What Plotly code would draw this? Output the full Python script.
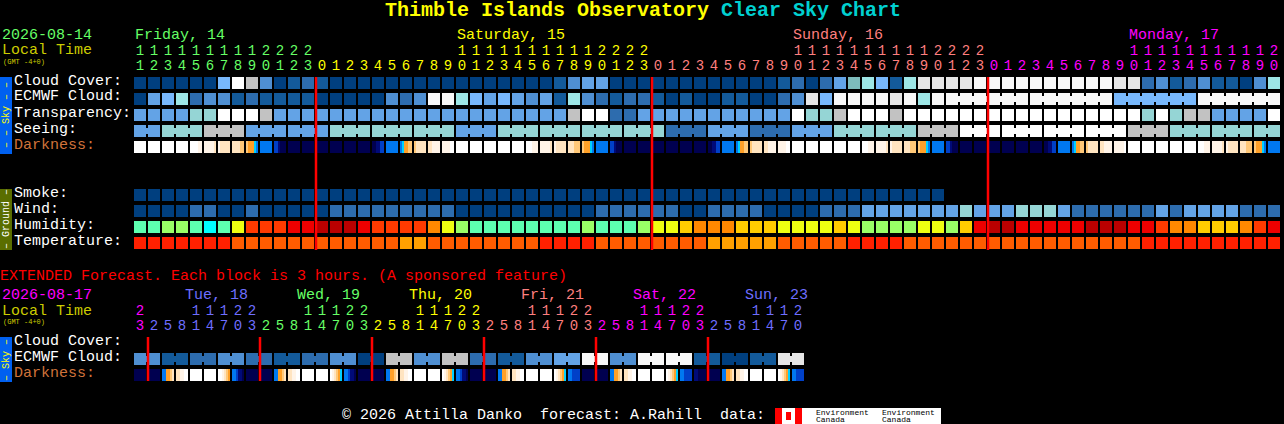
import plotly.graph_objects as go

W_PX, H_PX = 1284, 424
MONO = "Liberation Mono"

# ---- palette for the hourly blocks -------------------------------------
block_colours = ["#003f7f", "#135a9a", "#2d6cae", "#4f8fd2", "#63a3e6", "#78b8fc",
                 "#9de6e6", "#95d5d5", "#7dbcbc", "#c2c2c2", "#e6e6e6", "#f8f8f8", "#ffffff",
                 "#00ffff", "#5dffb0", "#99ff66", "#eeff11", "#ffcc00", "#ff8800", "#ff3a00", "#ee0000", "#b90000",
                 "#ff2000", "#ff5c00", "#ffa000"]
A, B, C, D, E, F, G, H, M, I, J, K, L, CY, SP, LM, YE, AM, OR, OE, RD, DR, T1, T2, T3 = range(25)

# ---- palette for the darkness blocks -----------------------------------
dark_colours = ["#000050", "#000a78", "#0040c8", "#0078f0", "#00d0ff",
                "#ffa028", "#ffc878", "#ffe4c0", "#fff4e8", "#ffffff"]

# ---- hourly section ------------------------------------------------------
hours = [11, 12, 13, 14, 15, 16, 17, 18, 19, 20, 21, 22, 23] + list(range(24)) + list(range(24)) + list(range(21))
hour_colours = ["#66ff66"] * 13 + ["#ffff00"] * 24 + ["#ff7f7f"] * 24 + ["#ff00ff"] * 21
midnights = [12.5, 36.5, 60.5]

cloud_cover = [A]*6 + [F, L, I, D, A, B, C, B] + [A]*16 + [B, D, E, E] + [A]*12 + \
    [B, C, A, C, E, M, G, F, B, G, J, J, J, J] + [K]*10 + [J, J, C, D, B, C, D, B, B, A, D, G]
ecmwf_cloud = [A, E, F, G, C, D, D, B, C, B, B, B, B] + [A]*5 + [D, C, D, K, K, G, F, E, F, E, D, E, B, G,
    D, C, B, C, C, B, A, B, A, A, B, B, A, A, C, D, J, F, K, K, K, K, J, K, G, K] + [K]*12 + [F]*6 + [K]*6
ecmwf_groups = [1]*58 + [6, 6, 6, 6]
transparency = [E]*4 + [H, H, L, L, L, I] + [E]*21 + [I, L, L, C, C] + [E]*11 + [L, H, H, I] + [L]*3 + [I] + \
    [L]*17 + [H, L, H, I, I] + [E]*4 + [L]
seeing = [E]*2 + [H]*3 + [I]*3 + [E]*6 + [H]*9 + [E]*3 + [H]*12 + [C]*3 + [E]*3 + [C]*3 + [E]*3 + [H]*6 + \
    [I]*3 + [L]*12 + [I]*3 + [H]*8
seeing_groups = [2] + [3]*26 + [2]
smoke = [A]*58 + [None]*24
wind = [A]*4 + [C, C, A, A, C] + [A]*5 + [C]*9 + [A]*10 + [C]*6 + [A, A] + [C]*4 + [A]*4 + [C]*3 + [E]*7 + \
    [H] + [E]*3 + [H]*3 + [E] + [C]*6 + [E, C] + [E]*4 + [C]*3
humidity = [SP, SP, LM, LM, SP, CY, SP, YE, OE, OE, OE, RD, RD, DR, DR, DR, RD, OE, OE, OE, OE, OR, YE, LM] + \
    [SP]*8 + [LM, SP, SP, SP, LM, YE, YE, AM, OR, OR, OR, AM, AM, AM, YE, YE, YE, YE, AM, YE, LM, LM, LM, LM,
     YE, YE, LM, AM, RD, DR, DR, RD, RD, RD, RD, RD, DR, DR, DR, RD, RD, OE, OR, OR, AM, AM, AM, OR, OE, RD]
temperature = [T1]*7 + [T2]*12 + [T3]*2 + [T2]*8 + [T1]*4 + [T2]*8 + [T3]*5 + [T2]*5 + [T1]*4 + [T2]*17 + [T1]*10

# darkness: six colour steps across each block
WH = [9]*6
NI = [0]*6
AZ = [3]*6
darkness = [WH, WH, WH, WH, [9, 9, 9, 9, 8, 8], [8, 8, 8, 8, 8, 7], [8, 7, 7, 7, 7, 7], [7, 7, 7, 7, 6, 6],
            [6, 5, 5, 5, 4, 3], AZ, [2, 2, 1, 0, 0, 0], NI, NI, NI, NI, NI, NI, [0, 0, 1, 1, 2, 2], AZ,
            [3, 4, 5, 5, 6, 6], [6, 7, 7, 7, 7, 7], [7, 7, 8, 8, 8, 8], [8, 8, 8, 8, 9, 9],
            WH, WH, WH, WH, WH, [9, 9, 9, 8, 8, 8], [8, 8, 8, 8, 8, 7], [8, 7, 7, 7, 7, 7], [7, 7, 7, 6, 6, 6],
            [6, 5, 5, 5, 4, 3], AZ, [2, 2, 1, 0, 0, 0], NI, NI, NI, NI, NI, NI, [0, 0, 1, 1, 2, 2], AZ,
            [3, 4, 5, 5, 6, 6], [6, 7, 7, 7, 7, 7], [7, 7, 8, 8, 8, 8], [8, 8, 8, 8, 9, 9],
            WH, WH, WH, WH, WH, [9, 9, 9, 8, 8, 8], [8, 8, 8, 8, 8, 7], [8, 7, 7, 7, 7, 7], [7, 7, 7, 6, 6, 6],
            [6, 5, 5, 5, 4, 3], AZ, [2, 2, 1, 0, 0, 0], NI, NI, NI, NI, NI, NI, [0, 0, 1, 1, 2, 2], AZ,
            [3, 4, 5, 5, 6, 6], [6, 7, 7, 7, 7, 7], [7, 7, 8, 8, 8, 8], [8, 8, 8, 8, 8, 9],
            WH, WH, WH, WH, WH, [9, 9, 9, 8, 8, 8], [8, 8, 8, 8, 8, 7], [8, 7, 7, 7, 7, 7], [7, 7, 7, 6, 6, 6],
            [6, 5, 5, 5, 4, 3], AZ]

# ---- extended section ----------------------------------------------------
ext_hours = [23] + [2, 5, 8, 11, 14, 17, 20, 23] * 5 + [2, 5, 8, 11, 14, 17, 20]
ext_colours = ["#ff00ff"] + ["#6e6eff"]*8 + ["#66ff66"]*8 + ["#ffff00"]*8 + ["#ff7f7f"]*8 + ["#ff00ff"]*8 + ["#6e6eff"]*7
ext_midnights = [0.5, 8.5, 16.5, 24.5, 32.5, 40.5]
ext_ecmwf = [D, D, B, B, C, C, D, D, C, C, B, B, C, C, D, D, A, A, I, I, D, D, I, I,
             C, C, B, B, D, D, E, E, K, K, D, D, K, K, K, K, B, B, A, A, B, B, J, J]
ext_groups = [2] * 24
DSK = [3, 3, 5, 5, 6, 7]      # dawn block after the night
MRN = [7, 7, 8, 8, 9, 9]
EVE = [9, 9, 8, 7, 6, 5]
EV4 = [9, 8, 7, 6, 5, 4]
AFT = [3, 3, 2, 1, 1, 0]
AF2 = [3, 3, 2, 2, 2, 2]
ext_darkness = [NI, NI, DSK, MRN, WH, WH, EVE, AFT, NI, NI, DSK, MRN, WH, WH, EV4, AFT, NI, NI, DSK, MRN, WH, WH,
                EV4, AFT, NI, NI, DSK, MRN, WH, WH, EV4, AF2, NI, NI, DSK, MRN, WH, WH, EV4, AF2, [1, 1, 0, 0, 0, 0],
                NI, DSK, MRN, WH, WH, EV4, AF2]

# ---- row positions (16 px lines, row 0 = Cloud Cover) ---------------------
ROW_H = 16.0
COL_W = 14.0
X_ZERO = 140.0   # px of the first column centre
Y_ZERO = 83.0    # px of the first row centre


def ry(px):
    return (px - Y_ZERO) / ROW_H


def cx(px):
    return (px - X_ZERO) / COL_W


scale_blocks = [[k / (len(block_colours) - 1), c] for k, c in enumerate(block_colours)]
scale_dark = [[k / (len(dark_colours) - 1), c] for k, c in enumerate(dark_colours)]

fig = go.Figure()


def add_blocks(values, row, groups=None):
    fig.add_trace(go.Heatmap(z=[values], x0=0, dx=1, y0=row, dy=1, xgap=2, ygap=4,
                             colorscale=scale_blocks, zmin=0, zmax=len(block_colours) - 1,
                             showscale=False, hoverinfo="skip"))
    if groups:
        bridges = [None] * (len(values) - 1)
        start = 0
        for g in groups:
            for i in range(start, start + g - 1):
                bridges[i] = values[i]
            start += g
        fig.add_trace(go.Heatmap(z=[bridges], x0=0.5, dx=1, y0=row, dy=1, xgap=12, ygap=10,
                                 colorscale=scale_blocks, zmin=0, zmax=len(block_colours) - 1,
                                 showscale=False, hoverinfo="skip"))


def add_dark(blocks, row):
    z = []
    for b in blocks:
        z.extend(b)
        z.append(None)
    fig.add_trace(go.Heatmap(z=[z], x0=-5 / COL_W, dx=2 / COL_W, y0=row, dy=1, ygap=4,
                             colorscale=scale_dark, zmin=0, zmax=len(dark_colours) - 1,
                             showscale=False, hoverinfo="skip"))


def add_hours(hrs, colours, y_tens, y_units):
    tens = [str(h // 10) if h >= 10 else "" for h in hrs]
    units = [str(h % 10) for h in hrs]
    xs = list(range(len(hrs)))
    for txt, y in ((tens, y_tens), (units, y_units)):
        fig.add_trace(go.Scatter(x=xs, y=[y] * len(xs), mode="text", text=txt,
                                 textposition="middle center",
                                 textfont=dict(family=MONO, size=14, color=colours),
                                 hoverinfo="skip", showlegend=False))


def add_midnights(cols, y0, y1):
    for c in cols:
        fig.add_trace(go.Scatter(x=[c + 1 / COL_W] * 2, y=[y0, y1], mode="lines",
                                 line=dict(color="#ff0000", width=2.5),
                                 hoverinfo="skip", showlegend=False))


add_blocks(cloud_cover, 0)
add_blocks(ecmwf_cloud, 1, ecmwf_groups)
add_blocks(transparency, 2)
add_blocks(seeing, 3, seeing_groups)
add_dark(darkness, 4)
add_blocks(smoke, 7)
add_blocks(wind, 8)
add_blocks(humidity, 9)
add_blocks(temperature, 10)
add_midnights(midnights, ry(77), ry(250))
add_hours(hours, hour_colours, ry(51), ry(66))

add_blocks(ext_ecmwf, ry(359), ext_groups)
add_dark(ext_darkness, ry(375))
add_midnights(ext_midnights, ry(337), ry(381))
add_hours(ext_hours, ext_colours, ry(311), ry(326))

annotations = []


def label(txt, px, py, color, size=15, anchor="left", bold=False, angle=0):
    if bold:
        txt = "<b>" + txt + "</b>"
    annotations.append(dict(text=txt, x=px / W_PX, y=1 - py / H_PX, xref="paper", yref="paper",
                            xanchor=anchor, yanchor="middle", showarrow=False, textangle=angle,
                            font=dict(family=MONO, size=size, color=color), borderpad=0, borderwidth=0))


GREEN, OLIVE, ORANGE = "#66ff66", "#cccc00", "#d0733a"
label('<span style="color:#ffff00">Thimble Islands Observatory</span> '
      '<span style="color:#00d0d0">Clear Sky Chart</span>', 642.5, 11, "#ffff00", size=20, anchor="center", bold=True)
label("2026-08-14", 2, 36, GREEN)
label("Local Time", 2, 51, OLIVE)
label("(GMT -4+0)", 3, 62, OLIVE, size=7)
label("Friday, 14", 135, 36, GREEN)
label("Saturday, 15", 457, 36, "#ffff00")
label("Sunday, 16", 793, 36, "#ff7f7f")
label("Monday, 17", 1129, 36, "#ff00ff")
for txt, y, col in [("Cloud Cover:", 81, "#ffffff"), ("ECMWF Cloud:", 97, "#ffffff"), ("Transparency:", 113, "#ffffff"),
                    ("Seeing:", 129, "#ffffff"), ("Darkness:", 145, ORANGE), ("Smoke:", 193, "#ffffff"),
                    ("Wind:", 209, "#ffffff"), ("Humidity:", 225, "#ffffff"), ("Temperature:", 241, "#ffffff"),
                    ("Cloud Cover:", 341, "#ffffff"), ("ECMWF Cloud:", 357, "#ffffff"), ("Darkness:", 373, ORANGE)]:
    label(txt, 14, y, col)
label("EXTENDED Forecast. Each block is 3 hours. (A sponsored feature)", 0, 276, "#ff0000")
label("2026-08-17", 2, 295, "#ff00ff")
label("Local Time", 2, 311, OLIVE)
label("(GMT -4+0)", 3, 322, OLIVE, size=7)
for txt, px, col in [("Tue, 18", 185, "#6e6eff"), ("Wed, 19", 297, GREEN), ("Thu, 20", 409, "#ffff00"),
                     ("Fri, 21", 521, "#ff7f7f"), ("Sat, 22", 633, "#ff00ff"), ("Sun, 23", 745, "#6e6eff")]:
    label(txt, px, 295, col)
label("– – Sky – –", 6, 115, "#ffff00", size=10, anchor="center", angle=-90)
label("– Ground –", 6, 219, "#ffffff", size=10, anchor="center", angle=-90)
label("– Sky –", 6, 360, "#ffff00", size=10, anchor="center", angle=-90)
label("© 2026 Attilla Danko  forecast: A.Rahill  data:", 342, 415, "#ffffff")
for px in (816, 882):
    label("Environment", px, 412, "#000000", size=8)
    label("Canada", px, 419, "#000000", size=8)


def rect(x0, y0, x1, y1, color, layer="below"):
    return dict(type="rect", xref="paper", yref="paper", x0=x0 / W_PX, x1=x1 / W_PX,
                y0=1 - y0 / H_PX, y1=1 - y1 / H_PX, fillcolor=color, line=dict(width=0), layer=layer)


shapes = [rect(0, 77, 12, 154, "#0060f0"), rect(0, 189, 12, 250, "#5a6e00"), rect(0, 337, 12, 382, "#0060f0"),
          rect(775, 408, 941, 424, "#ffffff"), rect(775, 408, 782, 424, "#ff0000"), rect(795, 408, 802, 424, "#ff0000"),
          rect(786, 412, 791, 420, "#ff0000")]

fig.update_layout(
    width=W_PX, height=H_PX, autosize=False,
    margin=dict(l=0, r=0, t=0, b=0, pad=0),
    paper_bgcolor="#000000", plot_bgcolor="#000000",
    showlegend=False,
    xaxis=dict(range=[cx(0), cx(W_PX)], visible=False, fixedrange=True),
    yaxis=dict(range=[ry(H_PX), ry(0)], visible=False, fixedrange=True),
    annotations=annotations, shapes=shapes,
)
assert len(hours) == len(cloud_cover) == len(ecmwf_cloud) == len(transparency) == len(seeing) == len(smoke) == \
    len(wind) == len(humidity) == len(temperature) == len(darkness) == 82
assert len(ext_hours) == len(ext_ecmwf) == len(ext_darkness) == len(ext_colours) == 48

fig.write_html("out.html", config=dict(displayModeBar=False, staticPlot=True),
               post_script="document.body.style.margin='0';document.body.style.background='#000';document.body.style.overflow='hidden';")
